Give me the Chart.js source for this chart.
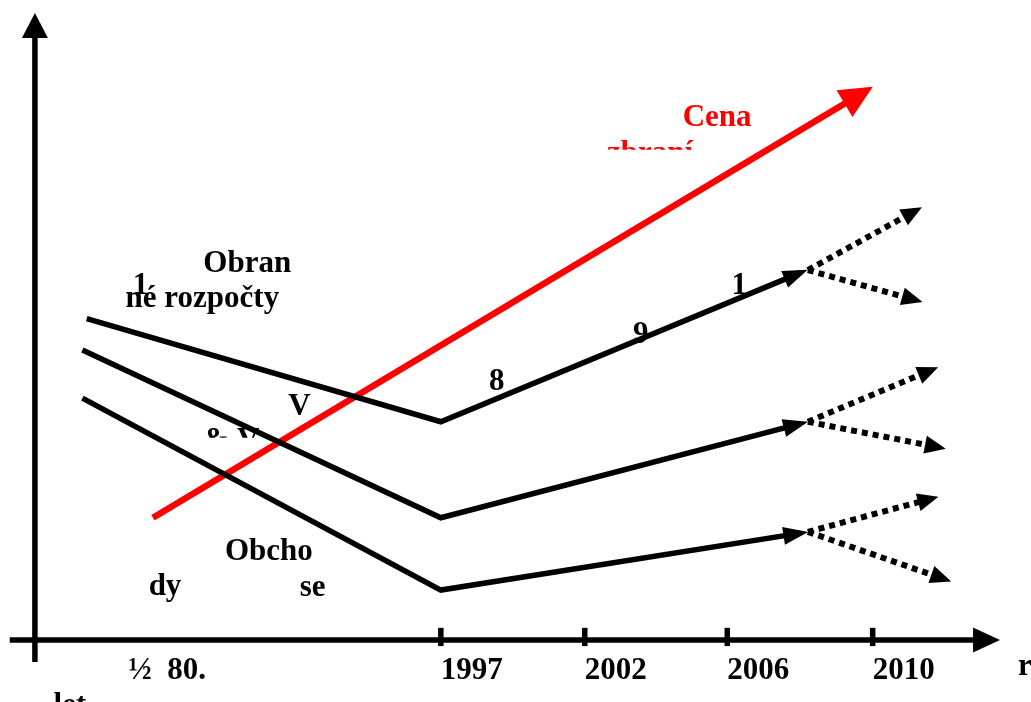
<!DOCTYPE html>
<html>
<head>
<meta charset="utf-8">
<script src="https://cdn.jsdelivr.net/npm/chart.js@4/dist/chart.umd.min.js"></script>
<style>
  html, body { margin: 0; padding: 0; background: #fff; overflow: hidden; }
  canvas { display: block; }
</style>
</head>
<body>
<canvas id="chart" width="1031" height="702"></canvas>
<script>
// Period axis: one unit per period step (1997 = 3, 2002 = 4, 2006 = 5, 2010 = 6)
const periodLabels    = ['½  80.', '1997', '2002', '2006', '2010'];
const periodPositions = [0.83, 3, 4, 4.99, 6];
const periodTicks     = [3, 4, 4.99, 6];

// Defence budgets (upper black line)
const budgets      = [{x: 0.54, y: 50.2}, {x: 3, y: 34.1}, {x: 5.5, y: 57.4}];
const budgetsUp    = [{x: 5.55, y: 57.8}, {x: 6.30, y: 67.1}];
const budgetsDown  = [{x: 5.55, y: 57.8}, {x: 6.30, y: 53.1}];

// Research & development (middle black line)
const research     = [{x: 0.51, y: 45.3}, {x: 3, y: 19.1}, {x: 5.5, y: 33.8}];
const researchUp   = [{x: 5.55, y: 34.1}, {x: 6.41, y: 42.2}];
const researchDown = [{x: 5.55, y: 34.1}, {x: 6.46, y: 30.1}];

// Arms trade (lower black line)
const trade        = [{x: 0.51, y: 37.8}, {x: 3, y: 7.8}, {x: 5.5, y: 16.7}];
const tradeUp      = [{x: 5.55, y: 16.9}, {x: 6.41, y: 22.1}];
const tradeDown    = [{x: 5.55, y: 16.9}, {x: 6.50, y: 9.5}];

// Price of weapons (red line)
const weaponPrice  = [{x: 1.0, y: 19.1}, {x: 5.96, y: 85.9}];

const FONT = 'bold 31px "Liberation Serif", "Times New Roman", serif';

// Text placed on the plot (x, y in axis units; y = baseline; clipY hides the text below that level)
const notes = [
  {text: 'Obran',       x: 1.35, y: 57.5},
  {text: '1',           x: 0.86, y: 54.1},
  {text: 'né rozpočty', x: 0.81, y: 52.0},
  {text: 'V',           x: 1.94, y: 35.2},
  {text: '& V',         x: 1.35, y: 29.8, clipY: 31.6},
  {text: '8',           x: 3.335, y: 39.1},
  {text: '9',           x: 4.335, y: 46.4},
  {text: '1',           x: 5.02, y: 54.1},
  {text: 'Obcho',       x: 1.50, y: 12.5},
  {text: 'dy',          x: 0.97, y: 7.0},
  {text: 'se',          x: 2.02, y: 6.9},
  {text: 'Cena',        x: 4.68, y: 80.3, color: '#ff0000'},
  {text: 'zbraní',      x: 4.155, y: 74.7, color: '#ff0000', clipY: 76.6},
  {text: 'let',         x: 0.31, y: -11.6},
  {text: 'r',           x: 7.01, y: -5.5}
];

function solid(data, color, width, len, half) {
  return {
    data, borderColor: color, borderWidth: width, showLine: true, fill: false,
    pointRadius: 0, clip: false, borderCapStyle: 'butt', borderJoinStyle: 'miter',
    arrow: {len, half}
  };
}
function dotted(data) {
  return {
    data, borderColor: '#000', borderWidth: 6, borderDash: [6, 5], showLine: true,
    fill: false, pointRadius: 0, clip: false, borderCapStyle: 'butt',
    arrow: {len: 21, half: 9}
  };
}

// Axes with arrowheads, tick marks, period labels and notes
const axesPlugin = {
  id: 'axesArrows',
  beforeDatasetsDraw(chart) {
    const {ctx} = chart;
    const xs = chart.scales.x, ys = chart.scales.y;
    const X = v => xs.getPixelForValue(v), Y = v => ys.getPixelForValue(v);
    ctx.save();
    ctx.strokeStyle = '#000';
    ctx.fillStyle = '#000';
    ctx.lineWidth = 5.5;
    ctx.lineCap = 'butt';

    // horizontal axis
    const x0 = X(0.005), xTip = X(6.885), y0 = Y(0);
    ctx.beginPath(); ctx.moveTo(x0, y0); ctx.lineTo(xTip - 20, y0); ctx.stroke();
    ctx.beginPath(); ctx.moveTo(xTip, y0); ctx.lineTo(xTip - 27, y0 - 12.5); ctx.lineTo(xTip - 27, y0 + 12.5); ctx.closePath(); ctx.fill();

    // vertical axis
    const ax = X(0.18), yBottom = Y(-3.44), yTip = Y(97.97);
    ctx.beginPath(); ctx.moveTo(ax, yBottom); ctx.lineTo(ax, yTip + 20); ctx.stroke();
    ctx.beginPath(); ctx.moveTo(ax, yTip); ctx.lineTo(ax - 13, yTip + 25); ctx.lineTo(ax + 13, yTip + 25); ctx.closePath(); ctx.fill();

    // tick marks
    periodTicks.forEach(t => {
      ctx.beginPath(); ctx.moveTo(X(t), Y(1.9)); ctx.lineTo(X(t), Y(-0.95)); ctx.stroke();
    });

    // period labels
    ctx.font = FONT;
    ctx.textAlign = 'left';
    ctx.textBaseline = 'alphabetic';
    periodLabels.forEach((lab, i) => ctx.fillText(lab, X(periodPositions[i]), Y(-6.1)));

    // notes
    notes.forEach(n => {
      ctx.save();
      if (n.clipY !== undefined) {
        ctx.beginPath(); ctx.rect(0, 0, chart.width, Y(n.clipY)); ctx.clip();
      }
      ctx.fillStyle = n.color || '#000';
      ctx.fillText(n.text, X(n.x), Y(n.y));
      ctx.restore();
    });
    ctx.restore();
  }
};

// Arrowheads at the end of each line
const arrowPlugin = {
  id: 'lineArrows',
  afterDatasetsDraw(chart) {
    const {ctx} = chart;
    chart.data.datasets.forEach((ds, i) => {
      if (!ds.arrow) return;
      const pts = chart.getDatasetMeta(i).data;
      const a = pts[pts.length - 2], b = pts[pts.length - 1];
      const dx = b.x - a.x, dy = b.y - a.y, L = Math.hypot(dx, dy);
      const ux = dx / L, uy = dy / L;
      const {len, half} = ds.arrow;
      const ext = ds.borderWidth / 2 * len / half;
      const tx = b.x + ux * ext, ty = b.y + uy * ext;
      const bx = tx - ux * len, by = ty - uy * len;
      ctx.save();
      ctx.fillStyle = ds.borderColor;
      ctx.beginPath();
      ctx.moveTo(tx, ty);
      ctx.lineTo(bx - uy * half, by + ux * half);
      ctx.lineTo(bx + uy * half, by - ux * half);
      ctx.closePath();
      ctx.fill();
      ctx.restore();
    });
  }
};

new Chart(document.getElementById('chart'), {
  type: 'scatter',
  data: {
    datasets: [
      dotted(budgetsUp), dotted(budgetsDown),
      dotted(researchUp), dotted(researchDown),
      dotted(tradeUp), dotted(tradeDown),
      solid(budgets, '#000', 5.5, 25, 9),
      solid(research, '#000', 5.5, 25, 9),
      solid(trade, '#000', 5.5, 25, 9),
      solid(weaponPrice, '#ff0000', 6.5, 33, 15.5)
    ]
  },
  options: {
    responsive: false,
    animation: false,
    devicePixelRatio: 1,
    layout: {padding: {left: 9, right: 0, top: 0, bottom: 62}},
    scales: {
      x: {type: 'linear', min: 0, max: 7.1, display: false},
      y: {type: 'linear', min: 0, max: 100, display: false}
    },
    plugins: {legend: {display: false}, tooltip: {enabled: false}}
  },
  plugins: [axesPlugin, arrowPlugin]
});
</script>
</body>
</html>
